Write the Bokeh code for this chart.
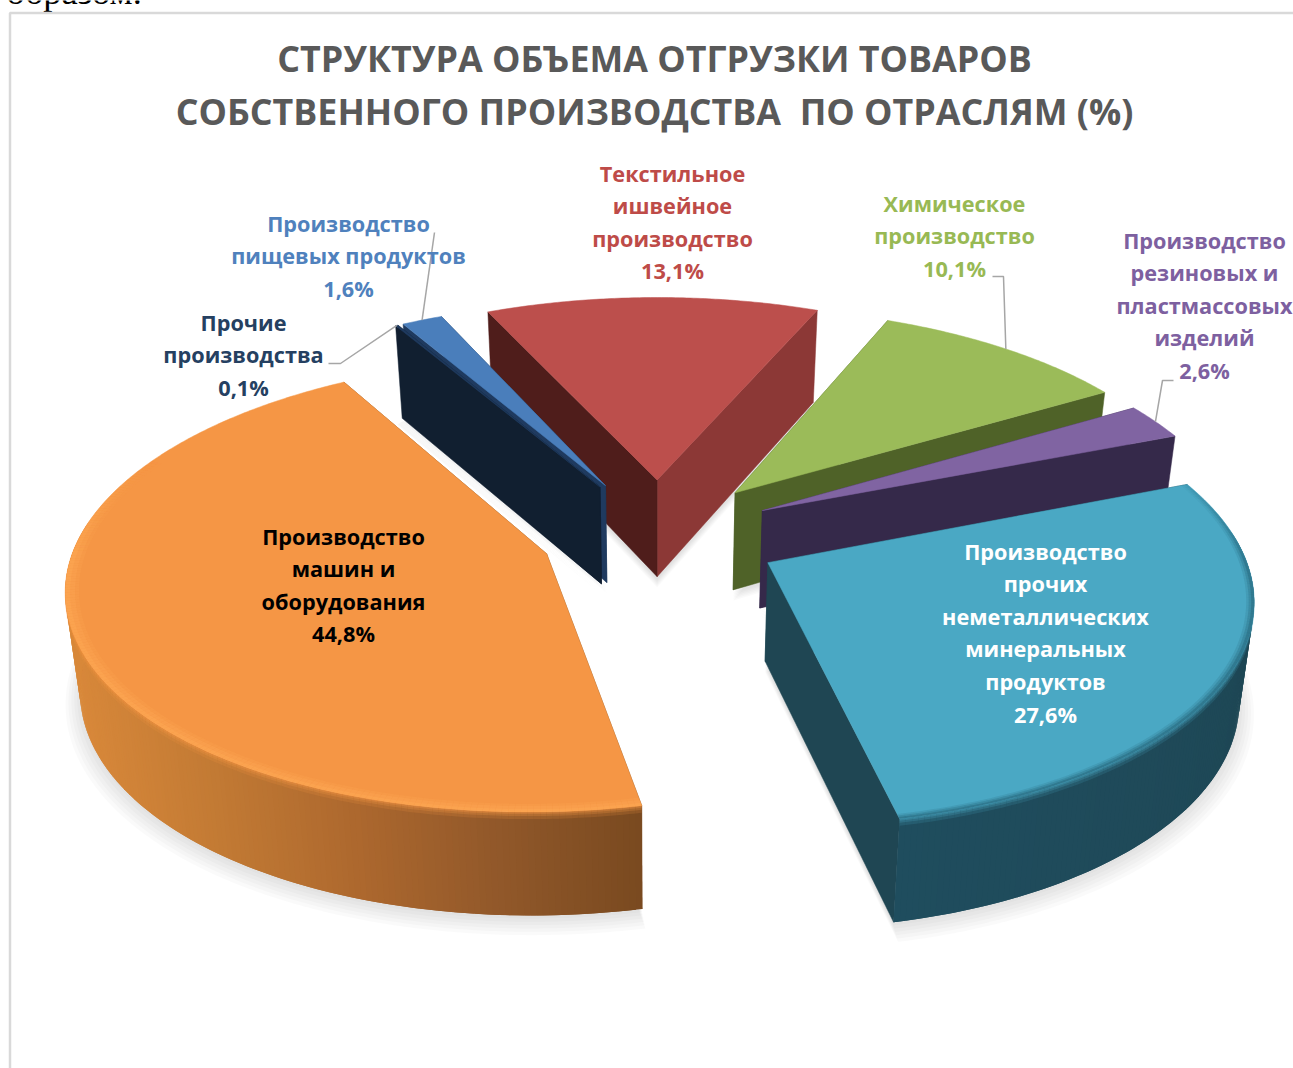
import numpy as np
from bokeh.plotting import figure
from bokeh.models import Range1d
from bokeh.core.properties import value
from bokeh.embed import file_html
from bokeh.resources import INLINE

# ---------- data ----------
names = ["red", "green", "purple", "teal", "orange", "navy", "blue"]
values_pct = [13.1, 10.1, 2.6, 27.6, 44.8, 0.1, 1.6]
label_lines = [
    ["Текстильное", "ишвейное", "производство"],
    ["Химическое", "производство"],
    ["Производство", "резиновых и", "пластмассовых", "изделий"],
    ["Производство", "прочих", "неметаллических", "минеральных", "продуктов"],
    ["Производство", "машин и", "оборудования"],
    ["Прочие", "производства"],
    ["Производство", "пищевых продуктов"],
]
title_lines = ["СТРУКТУРА ОБЪЕМА ОТГРУЗКИ ТОВАРОВ", "СОБСТВЕННОГО ПРОИЗВОДСТВА\u00a0\u00a0ПО ОТРАСЛЯМ (%)"]
clipped_text = "образом."

# ---------- styles / layout ----------
W, H = 1293, 1068
CX, CY, K, KS, P = 658.0, 533.0, 478.0, 221.6, 0.139
EXPLODE, START = 0.25, 335.7
BOTTOM_SCALE = 0.975
style = {
    "red":    dict(top="#BC4F4C", a="#4F1D1B", b="#8C3836", wall=["#6E2B29", "#6E2B29"], rim=None, txt="#BE4B48", cx=672, y0=172.5, rad=1.0, ex=1.0, dx=0, dy=0),
    "green":  dict(top="#9BBB59", a="#4F6228", b="#4F6228", wall=["#4F6228", "#4F6228"], rim=None, txt="#98B954", cx=954, y0=202.5, rad=1.0, ex=1.0, dx=0, dy=0),
    "purple": dict(top="#8064A2", a="#35294A", b="#35294A", wall=["#35294A", "#35294A"], rim=None, txt="#7D60A0", cx=1204, y0=239.5, rad=1.0, ex=1.0, dx=-2, dy=1),
    "teal":   dict(top="#4AA8C4", a="#1F4653", b="#1F4653", wall=["#1E4552", "#1F4D5E"], rim="#1F5A6E", txt="#FFFFFF", cx=1045, y0=550.5, rad=0.985, ex=1.05, dx=-3, dy=1),
    "orange": dict(top="#F59645", a="#7A4A20", b="#7A4A20", wall=["#D8883A", "#C27A34", "#AD682E", "#91582A", "#7A4A20"], rim="#FFAA55", txt="#000000", cx=343, y0=535.5, rad=0.98, ex=1.0, dx=1, dy=0),
    "navy":   dict(top="#1F3A5F", a="#111F30", b="#111F30", wall=["#111F30", "#111F30"], rim=None, txt="#254061", cx=243, y0=321.5, rad=1.0, ex=1.0, dx=0, dy=0),
    "blue":   dict(top="#4A7EBB", a="#1F3A5F", b="#1F3A5F", wall=["#1F3A5F", "#1F3A5F"], rim=None, txt="#4F81BD", cx=348, y0=222.5, rad=1.0, ex=1.0, dx=0, dy=0),
}
rim_bands = {"teal": [(0.984, 0.15), (0.989, 0.25), (0.994, 0.35)],
             "orange": [(0.972, 0.2), (0.98, 0.3), (0.99, 0.4)]}
draw_order = ["red", "blue", "navy", "green", "purple", "teal", "orange"]
LINE_H = 32.6

# ---------- geometry ----------
vals = np.array(values_pct, dtype=float)
edges = START + np.concatenate([[0], np.cumsum(vals)]) * 360.0 / vals.sum()
slices = {}
for i, n in enumerate(names):
    slices[n] = dict(a0=edges[i], a1=edges[i + 1], mid=(edges[i] + edges[i + 1]) / 2)


def world(n, ang, r):
    m = np.radians(slices[n]["mid"])
    t = np.radians(ang)
    e = EXPLODE * style[n]["ex"]
    rr = r * style[n]["rad"]
    return e * np.sin(m) + rr * np.sin(t), e * np.cos(m) + rr * np.cos(t)


def top_pt(n, ang, r=1.0):
    X, Y = world(n, ang, r)
    w = 1 + P * Y
    return CX + K * X / w + style[n]["dx"], CY - KS * Y / w + style[n]["dy"]


def low_pt(n, ang, r=1.0):
    X, Y = world(n, ang, r)
    sx, sy = top_pt(n, ang, r)
    return CX + (sx - CX) * BOTTOM_SCALE, sy + 98 - 5 * Y


def hexrgb(c):
    return np.array([int(c[i:i + 2], 16) for i in (1, 3, 5)], float)


def ramp(cols, t):
    t = float(np.clip(t, 0, 1)) * (len(cols) - 1)
    i = min(int(t), len(cols) - 2)
    c = hexrgb(cols[i]) * (1 - (t - i)) + hexrgb(cols[i + 1]) * (t - i)
    return "#%02X%02X%02X" % tuple(int(round(v)) for v in c)


p = figure(width=W, height=H, x_range=Range1d(0, W), y_range=Range1d(H, 0),
           output_backend="svg", toolbar_location=None, min_border=0,
           margin=(0, 0, 0, 0), background_fill_color="white", border_fill_color="white")
p.axis.visible = False
p.grid.visible = False
p.outline_line_color = None

# page text and chart frame
p.text([6], [3], text=[clipped_text], text_font=value("Liberation Serif"), text_font_size="36.5px",
       text_color="#000000", text_align="left", text_baseline="alphabetic", y_offset=-12)
p.line([9.5, 9.5, W], [H, 12.5, 12.5], line_color="#D9D9D9", line_width=2.5)

# soft shadow
for layer in range(6):
    xs, ys = [], []
    for n in draw_order:
        s = slices[n]
        angs = np.linspace(s["a0"], s["a1"], max(3, int(s["a1"] - s["a0"]) * 2))
        rr = 1 + 0.006 * layer
        pts = [low_pt(n, a, rr) for a in angs] + [low_pt(n, s["mid"], 0)]
        xs.append([q[0] for q in pts])
        ys.append([q[1] + 3 + 1.5 * layer for q in pts])
    p.patches(xs, ys, fill_color="#808080", fill_alpha=0.04, line_color=None)

# slices, painter's order
for n in draw_order:
    s, st = slices[n], style[n]
    a0, a1 = s["a0"], s["a1"]
    # radial walls, far one first
    faces = []
    for ang, col in ((a0, st["a"]), (a1, st["b"])):
        t0, t1, l1, l0 = top_pt(n, ang, 0), top_pt(n, ang), low_pt(n, ang), low_pt(n, ang, 0)
        faces.append((t0[1] + t1[1], col, [t0, t1, l1, l0]))
    for _, col, q in sorted(faces, key=lambda f: f[0]):
        p.patch([v[0] for v in q], [v[1] for v in q], fill_color=col, line_color=col, line_width=0.5)
    # outer wall strips, front-facing part only; each overlaps the next to hide seams
    angs = np.linspace(a0, a1, max(2, int((a1 - a0) * 1.5) + 1))
    sx, sy, cols = [], [], []
    for i, u in enumerate(angs[:-1]):
        v = angs[min(i + 2, len(angs) - 1)]
        if np.cos(np.radians(u)) > 0.12 and np.cos(np.radians(v)) > 0.12:
            continue
        q = [top_pt(n, u), top_pt(n, v), low_pt(n, v), low_pt(n, u)]
        sx.append([w[0] for w in q])
        sy.append([w[1] for w in q])
        if n == "orange":
            left = top_pt(n, 270)[0]
            t = (q[0][0] - left) / (top_pt(n, a0)[0] - left)
        else:
            t = (u % 360 - 90) / (a1 % 360 - 90)
        cols.append(ramp(st["wall"], t))
    if sx:
        p.patches(sx, sy, fill_color=cols, line_color=None)
    # soft highlight at the top of the outer wall
    if st["rim"]:
        for drop, alpha in ((7, 0.18), (4, 0.25), (2, 0.3)):
            hx, hy, ha = [], [], []
            for i, u in enumerate(angs[:-1]):
                v = angs[i + 1]
                face = np.clip((0.3 - np.cos(np.radians((u + v) / 2))) / 0.3, 0, 1)
                t0, t1 = top_pt(n, u), top_pt(n, v)
                hx.append([t0[0], t1[0], t1[0], t0[0]])
                hy.append([t0[1], t1[1], t1[1] + drop, t0[1] + drop])
                ha.append(alpha * face)
            p.patches(hx, hy, fill_color=st["top"], fill_alpha=ha, line_color=None)
    # top face
    fine = np.linspace(a0, a1, max(3, int((a1 - a0) * 2)))
    q = [top_pt(n, a) for a in fine] + [top_pt(n, s["mid"], 0)]
    p.patch([w[0] for w in q], [w[1] for w in q], fill_color=st["top"], line_color=st["top"], line_width=0.5)
    # bevel along the front of the rim
    if st["rim"]:
        for r_in, alpha in rim_bands[n]:
            bx, by, ba = [], [], []
            for i, u in enumerate(angs[:-1]):
                v = angs[i + 1]
                face = np.clip((0.45 - np.cos(np.radians((u + v) / 2))) / 0.45, 0, 1)
                q = [top_pt(n, u), top_pt(n, v), top_pt(n, v, r_in), top_pt(n, u, r_in)]
                bx.append([w[0] for w in q])
                by.append([w[1] for w in q])
                ba.append(alpha * face)
            p.patches(bx, by, fill_color=st["rim"], fill_alpha=ba, line_color=None)

# leader lines
leader = "#A6A6A6"
gx, gy = top_pt("green", slices["green"]["mid"])
ux, uy = top_pt("purple", slices["purple"]["mid"])
bx_, by_ = top_pt("blue", slices["blue"]["mid"])
nx, ny = top_pt("navy", slices["navy"]["mid"])
p.line([992, 1003, gx], [276, 276, gy], line_color=leader, line_width=1.5)
p.line([1173, 1162, ux], [380, 380, uy], line_color=leader, line_width=1.5)
p.line([434, bx_], [232, by_], line_color=leader, line_width=1.5)
p.line([328, 340, nx], [363, 363, ny], line_color=leader, line_width=1.5)

# title
for i, line in enumerate(title_lines):
    p.text([654], [57 + 53 * i], text=[line], text_font=value("Open Sans"), text_font_style="bold",
           text_font_size="35.8px", text_color="#595959", text_align="center", text_baseline="middle")

# data labels
for n, v, lines in zip(names, values_pct, label_lines):
    st = style[n]
    full = lines + [f"{v:.1f}".replace(".", ",") + "%"]
    p.text([st["cx"]] * len(full), [st["y0"] + LINE_H * j for j in range(len(full))], text=full,
           text_font=value("Open Sans"), text_font_style="bold", text_font_size="21.7px",
           text_color=st["txt"], text_align="center", text_baseline="middle")

open("out.html", "w").write(file_html(p, INLINE))
